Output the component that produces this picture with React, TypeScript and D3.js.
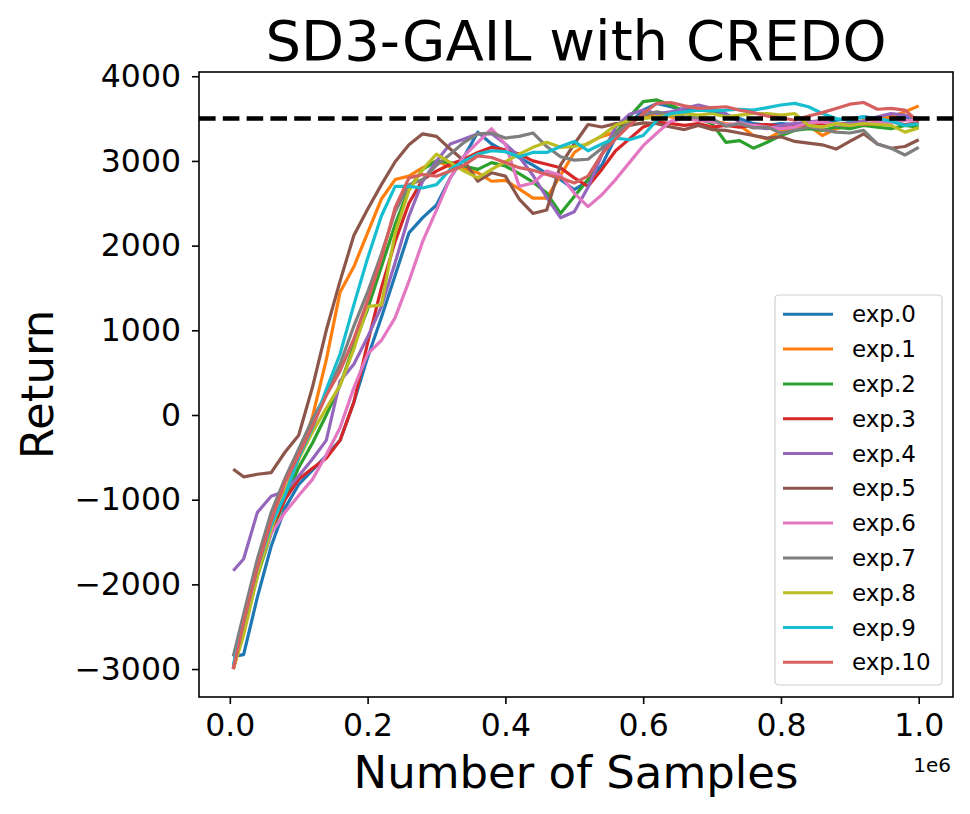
import { useEffect, useRef } from 'react';
import * as d3 from 'd3';

// number of environment samples at each logged point
const samples = [
  5000, 20000, 40000, 60000, 80000, 100000, 120000, 140000, 160000, 180000,
  200000, 220000, 240000, 260000, 280000, 300000, 320000, 340000, 360000, 380000,
  400000, 420000, 440000, 460000, 480000, 500000, 520000, 540000, 560000, 580000,
  600000, 620000, 640000, 660000, 680000, 700000, 720000, 740000, 760000, 780000,
  800000, 820000, 840000, 860000, 880000, 900000, 920000, 940000, 960000, 980000,
  1000000,
];

const exp0 = [
  -2850, -2830, -2150, -1550, -1100, -820, -650, -480, -300, 150,
  680, 1150, 1650, 2150, 2330, 2480, 2800, 3050, 3340, 3200,
  3110, 3040, 2950, 2850, 2780, 2660, 2760, 2950, 3280, 3440,
  3600, 3680, 3640, 3600, 3620, 3580, 3540, 3500, 3440, 3420,
  3440, 3430, 3460, 3440, 3480, 3500, 3520, 3500, 3540, 3520,
  3480,
];
const exp1 = [
  -2990, -2550, -1850, -1350, -950, -520, -20, 650, 1450, 1750,
  2150, 2550, 2780, 2820, 2920, 3000, 2930, 2910, 2860, 2760,
  2770, 2670, 2560, 2560, 2830, 3100, 3210, 3290, 3340, 3450,
  3520, 3560, 3520, 3500, 3480, 3470, 3440, 3420, 3300, 3260,
  3350, 3400, 3420, 3300, 3380, 3420, 3480, 3500, 3520, 3580,
  3650,
];
const exp2 = [
  -2990, -2550, -1900, -1400, -1000, -620, -330, 0, 350, 820,
  1250, 1750, 2250, 2670, 2900, 3000, 2980, 2940, 2900, 2980,
  2940, 2850, 2750, 2620, 2380, 2580, 2780, 3080, 3330, 3520,
  3700, 3720, 3660, 3580, 3500, 3440, 3220, 3240, 3150, 3220,
  3300, 3360, 3380, 3360, 3400, 3380, 3420, 3400, 3380, 3420,
  3400,
];
const exp3 = [
  -3000, -2550, -1850, -1350, -1000, -760, -630, -510, -300, 150,
  850, 1500, 2050, 2500, 2780, 2880, 2960, 3020, 3100, 3160,
  3130, 3080, 3000, 2960, 2920, 2800, 2700, 2900, 3120, 3260,
  3400, 3460, 3440, 3420, 3440, 3400, 3420, 3400, 3420, 3430,
  3410, 3430, 3420, 3440, 3430, 3450, 3430, 3440, 3460, 3430,
  3450,
];
const exp4 = [
  -1840, -1700, -1150, -960, -900, -720, -520, -300, 400, 600,
  920, 1280, 1800, 2350, 2760, 3000, 3200, 3260, 3320, 3320,
  3200, 3050, 2830, 2570, 2330, 2400, 2690, 3070, 3400, 3550,
  3600, 3560, 3580, 3620, 3660, 3620, 3560, 3460, 3400, 3380,
  3420, 3440, 3460, 3480, 3420, 3450, 3470, 3520, 3560, 3540,
  3500,
];
const exp5 = [
  -640, -730, -700, -680, -440, -240, 330, 1000, 1580, 2120,
  2430, 2720, 2990, 3190, 3320, 3290, 3140, 3000, 2760, 2860,
  2820, 2550, 2380, 2420, 2950, 3200, 3430, 3400, 3440, 3420,
  3450, 3440, 3400, 3370, 3420, 3370, 3360, 3330, 3300, 3270,
  3285, 3230, 3210, 3190, 3140, 3230, 3320, 3200, 3150, 3170,
  3250,
];
const exp6 = [
  -2990, -2500, -1850, -1400, -1150, -950, -760, -470, -150, 320,
  720, 880, 1150, 1580, 2050, 2420, 2800, 3060, 3220, 3380,
  3200, 2700, 2740, 2880, 2830, 2620, 2460, 2600, 2780, 2980,
  3180, 3330, 3470, 3500, 3480, 3460, 3430, 3440, 3420, 3400,
  3380, 3400, 3450, 3460, 3430, 3420, 3440, 3460, 3450, 3480,
  3480,
];
const exp7 = [
  -2850, -2350, -1700, -1150, -750, -400, -50, 250, 600, 1050,
  1450, 1900, 2400, 2720, 2780, 2950, 3080, 3220, 3320, 3330,
  3270, 3290, 3330, 3170, 3050, 3010, 3020, 3150, 3320, 3450,
  3540, 3580, 3540, 3520, 3510, 3500, 3410, 3440, 3390, 3400,
  3330, 3360, 3400, 3370, 3340, 3330, 3360, 3200, 3150, 3070,
  3160,
];
const exp8 = [
  -3000, -2600, -1900, -1350, -900, -520, -200, 80, 350, 780,
  1280, 1300, 2150, 2650, 2900, 3080, 2980, 2880, 2800, 2900,
  2990, 3080, 3160, 3220, 3160, 3170, 3200, 3300, 3420, 3480,
  3500, 3520, 3540, 3560, 3540, 3560, 3520, 3540, 3560, 3560,
  3540, 3560, 3420, 3400, 3440, 3420, 3440, 3430, 3420, 3340,
  3390,
];
const exp9 = [
  -2950, -2450, -1800, -1300, -950, -500, -150, 300, 720, 1300,
  1850, 2350, 2700, 2700, 2680, 2720, 2900, 3000, 3080, 3120,
  3110, 3050, 3100, 3100, 3170, 3230, 3120, 3200, 3270, 3250,
  3300, 3480, 3560, 3580, 3600, 3590, 3600, 3610, 3600, 3630,
  3660, 3680, 3640, 3560, 3500, 3480, 3520, 3500, 3470, 3420,
  3440,
];
const exp10 = [
  -3000, -2450, -1800, -1250, -800, -470, -130, 230, 520, 900,
  1350, 1850, 2450, 2800, 2840, 2820, 2880, 2950, 3060, 3040,
  2980, 2920, 2890, 2840, 2800, 2740, 2820, 3080, 3260, 3420,
  3560, 3680, 3690, 3650, 3620, 3630, 3640, 3600, 3570, 3530,
  3510, 3480, 3530, 3570, 3620, 3670, 3690, 3610, 3620, 3600,
  3460,
];

const seriesNames = [
  'exp.0', 'exp.1', 'exp.2', 'exp.3', 'exp.4', 'exp.5',
  'exp.6', 'exp.7', 'exp.8', 'exp.9', 'exp.10',
];
const seriesValues = [exp0, exp1, exp2, exp3, exp4, exp5, exp6, exp7, exp8, exp9, exp10];
const seriesColors = [
  '#1f77b4', '#ff7f0e', '#2ca02c', '#d62728', '#9467bd', '#8c564b',
  '#e377c2', '#7f7f7f', '#bcbd22', '#17becf', '#d65f5f',
];

const xTicks = [0, 200000, 400000, 600000, 800000, 1000000];
const yTicks = [-3000, -2000, -1000, 0, 1000, 2000, 3000, 4000];
const expertReturn = 3500;

const font = 'DejaVu Sans, sans-serif';

export default function App() {
  const svgRef = useRef(null);

  useEffect(() => {
    const width = 970;
    const height = 814;
    const left = 199;
    const right = 953;
    const top = 72;
    const bottom = 697;

    const x = d3.scaleLinear().domain([-44750, 1049750]).range([left, right]);
    const y = d3.scaleLinear().domain([-3330, 4050]).range([bottom, top]);

    const svg = d3.select(svgRef.current);
    svg.selectAll('*').remove();
    svg.attr('width', width).attr('height', height);

    svg.append('rect').attr('width', width).attr('height', height).attr('fill', '#fff');

    // curves
    const line = d3
      .line<number>()
      .x((_, i) => x(samples[i]))
      .y((d) => y(d));

    svg
      .append('g')
      .selectAll('path')
      .data(seriesValues)
      .join('path')
      .attr('d', (d) => line(d))
      .attr('fill', 'none')
      .attr('stroke', (_, i) => seriesColors[i])
      .attr('stroke-width', 3.2)
      .attr('stroke-linejoin', 'round');

    // expert level
    svg
      .append('line')
      .attr('x1', left)
      .attr('x2', right)
      .attr('y1', y(expertReturn))
      .attr('y2', y(expertReturn))
      .attr('stroke', '#000')
      .attr('stroke-width', 4.5)
      .attr('stroke-dasharray', '16.6 7.2');

    // axes
    const xAxis = svg
      .append('g')
      .attr('transform', `translate(0,${bottom})`)
      .call(
        d3
          .axisBottom(x)
          .tickValues(xTicks)
          .tickSize(7)
          .tickPadding(10)
          .tickFormat((d) => (+d / 1e6).toFixed(1))
      );
    const yAxis = svg
      .append('g')
      .attr('transform', `translate(${left},0)`)
      .call(d3.axisLeft(y).tickValues(yTicks).tickSize(7).tickPadding(11).tickFormat(d3.format('d')));

    [xAxis, yAxis].forEach((g) => {
      g.select('.domain').remove();
      g.selectAll('line').attr('stroke', '#000').attr('stroke-width', 1.6);
      g.selectAll('text').attr('fill', '#000').attr('font-family', font).attr('font-size', 31.5);
    });

    svg
      .append('rect')
      .attr('x', left)
      .attr('y', top)
      .attr('width', right - left)
      .attr('height', bottom - top)
      .attr('fill', 'none')
      .attr('stroke', '#000')
      .attr('stroke-width', 1.6);

    // titles
    svg
      .append('text')
      .attr('x', (left + right) / 2)
      .attr('y', 60)
      .attr('text-anchor', 'middle')
      .attr('font-family', font)
      .attr('font-size', 56)
      .text('SD3-GAIL with CREDO');

    svg
      .append('text')
      .attr('x', (left + right) / 2)
      .attr('y', 788)
      .attr('text-anchor', 'middle')
      .attr('font-family', font)
      .attr('font-size', 45)
      .text('Number of Samples');

    svg
      .append('text')
      .attr('transform', `translate(53,${(top + bottom) / 2}) rotate(-90)`)
      .attr('text-anchor', 'middle')
      .attr('font-family', font)
      .attr('font-size', 45)
      .text('Return');

    svg
      .append('text')
      .attr('x', right - 2)
      .attr('y', 772)
      .attr('text-anchor', 'end')
      .attr('font-family', font)
      .attr('font-size', 20)
      .text('1e6');

    // legend
    const legend = svg.append('g');
    legend
      .append('rect')
      .attr('x', 775)
      .attr('y', 295)
      .attr('width', 167)
      .attr('height', 390)
      .attr('rx', 4)
      .attr('fill', '#fff')
      .attr('fill-opacity', 0.8)
      .attr('stroke', '#d0d0d0')
      .attr('stroke-width', 1.2);

    const rows = legend
      .selectAll('g.row')
      .data(seriesNames)
      .join('g')
      .attr('class', 'row')
      .attr('transform', (_, i) => `translate(0,${314.3 + i * 34.8})`);
    rows
      .append('line')
      .attr('x1', 783)
      .attr('x2', 833)
      .attr('stroke', (_, i) => seriesColors[i])
      .attr('stroke-width', 3);
    rows
      .append('text')
      .attr('x', 852)
      .attr('y', 8)
      .attr('font-family', font)
      .attr('font-size', 23)
      .text((d) => d);
  }, []);

  return <svg ref={svgRef} style={{ position: 'absolute', left: 0, top: 0 }} />;
}
